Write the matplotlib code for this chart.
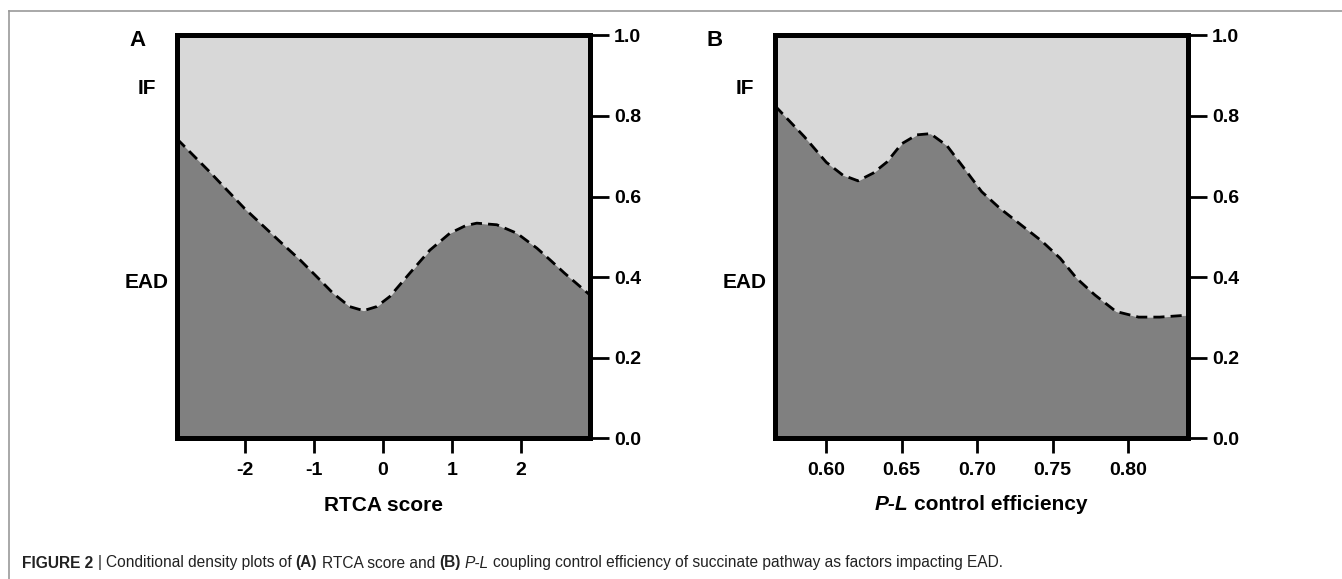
import matplotlib
matplotlib.use("Agg")
import matplotlib.pyplot as plt
from matplotlib.lines import Line2D

plt.rcParams['font.family'] = ['Liberation Sans', 'DejaVu Sans']

# conditional density curves (P(EAD) given x)
rtca_x = [-2.98, -2.5, -2.0, -1.5, -1.2, -0.95, -0.72, -0.48, -0.28, -0.09,
          0.10, 0.39, 0.68, 0.97, 1.20, 1.36, 1.65, 1.94, 2.23, 2.42, 2.63, 2.80, 2.99]
rtca_y = [0.743, 0.660, 0.570, 0.490, 0.443, 0.400, 0.360, 0.327, 0.317, 0.327,
          0.352, 0.410, 0.467, 0.509, 0.528, 0.534, 0.530, 0.509, 0.472, 0.443, 0.410, 0.385, 0.357]

pl_x = [0.566, 0.5853, 0.600, 0.611, 0.621, 0.631, 0.640, 0.650, 0.660, 0.669,
        0.680, 0.692, 0.703, 0.715, 0.729, 0.743, 0.755, 0.766, 0.778, 0.792,
        0.807, 0.821, 0.840]
pl_y = [0.825, 0.749, 0.685, 0.653, 0.639, 0.658, 0.685, 0.731, 0.753, 0.756,
        0.726, 0.667, 0.612, 0.571, 0.530, 0.489, 0.447, 0.397, 0.356, 0.315,
        0.301, 0.301, 0.306]

rtca_ticks = [-2, -1, 0, 1, 2]
pl_ticks = [0.60, 0.65, 0.70, 0.75, 0.80]
y_ticks = [0.0, 0.2, 0.4, 0.6, 0.8, 1.0]
classes = ["IF", "EAD"]
class_pos = [0.868, 0.386]

LIGHT = "#d8d8d8"
DARK = "#808080"

fig = plt.figure(figsize=(13.42, 5.79), dpi=100)
axA = fig.add_axes([0.1317, 0.2427, 0.3076, 0.6964])
axB = fig.add_axes([0.5775, 0.2427, 0.3077, 0.6964])


def density_panel(ax, x, y, xlim, xticks, fmt, letter, letter_off):
    ax.set_xlim(*xlim)
    ax.set_ylim(0, 1)
    ax.fill_between(x, y, 1, color=LIGHT, lw=0)
    ax.fill_between(x, 0, y, color=DARK, lw=0)
    ax.plot(x, y, color="black", lw=2, dashes=(4, 2.2))
    for s in ax.spines.values():
        s.set_linewidth(3.6)
        s.set_zorder(5)
    ax.yaxis.tick_right()
    ax.set_yticks(y_ticks)
    ax.set_yticklabels([f"{v:.1f}" for v in y_ticks])
    ax.set_xticks(xticks)
    ax.set_xticklabels([fmt.format(v) for v in xticks])
    ax.tick_params(axis="y", length=14, width=2, pad=3.5, labelsize=14)
    ax.tick_params(axis="x", length=11, width=2, pad=6, labelsize=14)
    for lab in ax.get_xticklabels() + ax.get_yticklabels():
        lab.set_fontweight("bold")
    for name, yy in zip(classes, class_pos):
        ax.annotate(name, (0, yy), xycoords=("axes fraction", "data"),
                    xytext=(-30, 0), textcoords="offset pixels",
                    ha="center", va="center", fontsize=15, fontweight="bold")
    ax.annotate(letter, (0, 1), xycoords="axes fraction",
                xytext=letter_off, textcoords="offset pixels",
                ha="center", va="center", fontsize=16, fontweight="bold")


density_panel(axA, rtca_x, rtca_y, (-2.984, 2.992), rtca_ticks, "{:g}", "A", (-39, -5))
density_panel(axB, pl_x, pl_y, (0.566, 0.8397), pl_ticks, "{:.2f}", "B", (-60, -5))

axA.set_xlabel("RTCA score", fontsize=15, fontweight="bold", labelpad=12)

renderer = fig.canvas.get_renderer()


def draw_runs(runs, x0, y0, size, color, center=False):
    # place text pieces one after the other, in figure pixels
    probe1 = fig.text(0, 0, "x x", fontsize=size)
    probe2 = fig.text(0, 0, "xx", fontsize=size)
    space = (probe1.get_window_extent(renderer).width
             - probe2.get_window_extent(renderer).width)
    probe1.remove()
    probe2.remove()
    arts = []
    x = 0
    for text, weight, style, gap in runs:
        if gap:
            x += space
        t = fig.text(0, y0, text, fontsize=size, fontweight=weight, fontstyle=style,
                     color=color, va="center", ha="left", transform=None)
        t._xoff = x
        x += t.get_window_extent(renderer).width
        arts.append(t)
    start = x0 - x / 2 if center else x0
    for t in arts:
        t.set_position((start + t._xoff, y0))
    return x


W, H = 1342, 579
# x label of panel B with italic P-L
draw_runs([("P-L", "bold", "italic", False), ("control efficiency", "bold", "normal", True)],
          (775 + 1188) / 2, H - 504, 15, "black", center=True)

caption = [("FIGURE 2", "bold", "normal", False),
           ("|", "normal", "normal", True),
           ("Conditional density plots of", "normal", "normal", True),
           ("(A)", "bold", "normal", True),
           ("RTCA score and", "normal", "normal", True),
           ("(B)", "bold", "normal", True),
           ("P-L", "normal", "italic", True),
           ("coupling control efficiency of succinate pathway as factors impacting EAD.",
            "normal", "normal", True)]
draw_runs(caption, 22, H - 563, 11.2, "#222222")

# thin grey frame round the figure
fig.add_artist(Line2D([9 / W, 1], [1 - 10.7 / H, 1 - 10.7 / H], color="#999999", lw=1.2,
                      transform=fig.transFigure))
fig.add_artist(Line2D([9 / W, 9 / W], [0, 1 - 10.7 / H], color="#999999", lw=1.2,
                      transform=fig.transFigure))

fig.savefig("out.png", dpi=100)
